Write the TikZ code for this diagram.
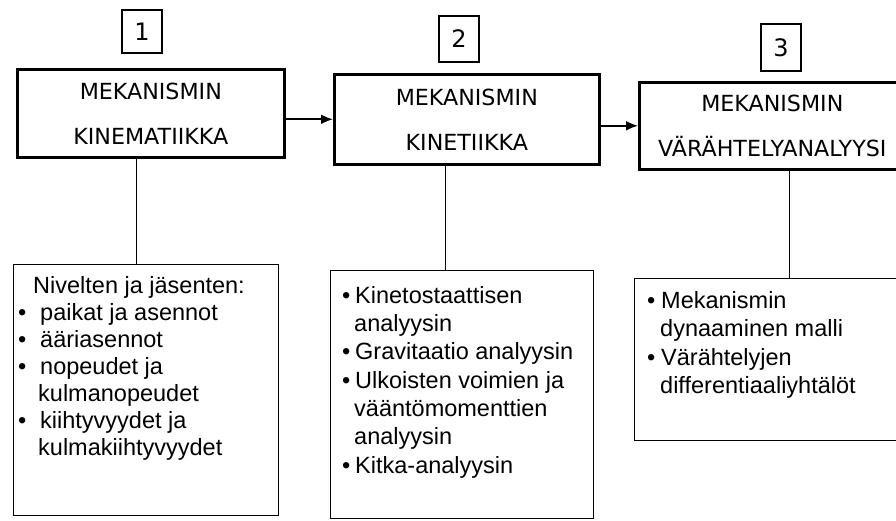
\documentclass[tikz,border=0pt]{standalone}
\usepackage{fontspec}
\setmainfont{Liberation Sans}
\newfontfamily\headfont{DejaVu Sans}
\usetikzlibrary{arrows.meta}
% bullet set in a box of the given width (pt)
\newcommand\dotitem[1]{\makebox[#1pt][l]{•}}
\begin{document}
\begin{tikzpicture}[x=1pt,y=-1pt,
  titlebox/.style={draw, line width=2.6pt, inner sep=0pt, anchor=north west,
    align=center, minimum width=267pt, minimum height=88pt,
    font=\headfont\fontsize{22.2}{45}\selectfont},
  numbox/.style={draw, line width=2.4pt, inner sep=0pt, minimum width=40pt,
    font=\headfont\fontsize{24}{28}\selectfont},
  detailbox/.style={draw, line width=1.4pt, inner sep=0pt, anchor=north west},
  detailtext/.style={inner sep=0pt, anchor=north west, align=left},
  link/.style={line width=1pt},
  flow/.style={line width=2pt, -{Latex[length=12pt,width=10pt]}}
]
\useasboundingbox (0,0) rectangle (896,520);
\clip (0,0) rectangle (896,520);
\fill[white] (0,0) rectangle (896,520);

% stage numbers
\node[numbox, minimum height=43pt] (n1) at (142,31.5) {1};
\node[numbox, minimum height=46pt] (n2) at (459,39) {2};
\node[numbox, minimum height=47pt] (n3) at (781,47.5) {3};

% stage titles
\node[titlebox] (k1) at (16,68) {MEKANISMIN\\KINEMATIIKKA};
\node[titlebox, minimum width=265pt, minimum height=90pt] (k2) at (333,73) {MEKANISMIN\\KINETIIKKA};
\node[titlebox, minimum width=266pt, minimum height=87pt] (k3) at (638,81) {MEKANISMIN\\VÄRÄHTELYANALYYSI};

% detail boxes
\node[detailbox, minimum width=265pt, minimum height=251pt] (d1) at (13,264) {};
\node[detailbox, minimum width=263pt, minimum height=248pt] (d2) at (330,270) {};
\node[detailbox, minimum width=266pt, minimum height=162pt] (d3) at (634,278) {};

% detail texts
\node[detailtext, font=\fontsize{23.5}{27}\selectfont] (t1) at (18,276)
  {\hspace*{15pt}Nivelten ja jäsenten:\\
   \dotitem{22}paikat ja asennot\\
   \dotitem{22}ääriasennot\\
   \dotitem{22}nopeudet ja\\
   \hspace*{20pt}kulmanopeudet\\
   \dotitem{22}kiihtyvyydet ja\\
   \hspace*{20pt}kulmakiihtyvyydet};
\node[detailtext, font=\fontsize{23.5}{28.3}\selectfont] (t2) at (342,286)
  {\dotitem{13}Kinetostaattisen\\
   \hspace*{12pt}analyysin\\
   \dotitem{13}Gravitaatio analyysin\\
   \dotitem{13}Ulkoisten voimien ja\\
   \hspace*{12pt}vääntömomenttien\\
   \hspace*{12pt}analyysin\\
   \dotitem{13}Kitka-analyysin};
\node[detailtext, font=\fontsize{23.5}{28.5}\selectfont] (t3) at (647,291)
  {\dotitem{14}Mekanismin\\
   \hspace*{13pt}dynaaminen malli\\
   \dotitem{14}Värähtelyjen\\
   \hspace*{13pt}differentiaaliyhtälöt};

% vertical links from titles to details
\coordinate (x1) at (136,0);
\coordinate (x2) at (445,0);
\coordinate (x3) at (789,0);
\draw[link] (k1.south -| x1) -- (d1.north -| x1);
\draw[link] (k2.south -| x2) -- (d2.north -| x2);
\draw[link] (k3.south -| x3) -- (d3.north -| x3);

% flow between stages
\draw[flow] (k1.east |- k2.west) -- (k2.west);
\draw[flow] (k2.east |- k3.west) -- (k3.west);
\end{tikzpicture}
\end{document}
